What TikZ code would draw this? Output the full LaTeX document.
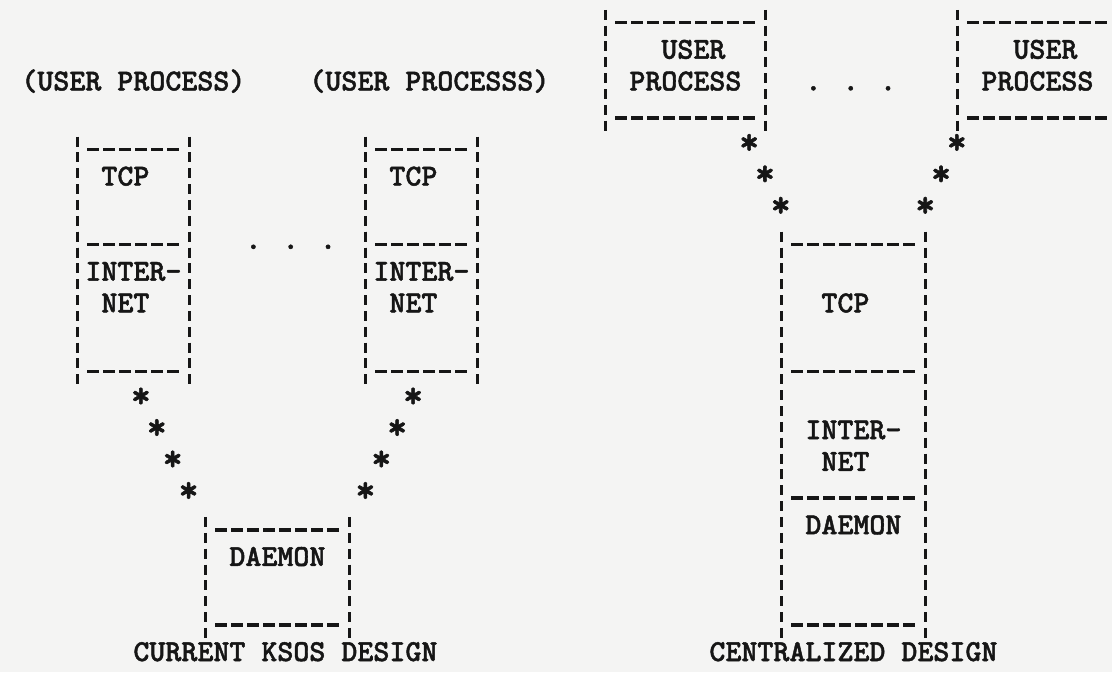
\documentclass[tikz,border=0pt]{standalone}
\usepackage{fontspec}
\newfontfamily\typefont{lmmonolt10-bold.otf}[FakeBold=1.5]
\usepackage{tikz}
\usetikzlibrary{decorations.markings}
\definecolor{paper}{RGB}{244,244,243}
\definecolor{ink}{RGB}{22,22,22}
\tikzset{%
  bar/.style = {ink, line width=1.5pt, dash pattern=on 5pt off 2.925pt,
        dash phase=6.4625pt},
  rule/.style = {ink, line width=1.8pt, dash pattern=on 6pt off 2pt},
  lyr/.style = {rectangle, inner sep=0pt},
  t/.style = {inner sep=0pt, anchor=mid west, text=ink,
        font=\typefont\fontsize{15.24pt}{15.85pt}\selectfont},
  ast/.style = {inner sep=0pt, anchor=mid, text=ink,
        font=\typefont\fontsize{19pt}{19pt}\selectfont},
  starline/.style = {draw=none, postaction=decorate,
        decoration={markings, mark=between positions #1 and 0.99 step #1
        with {\node[ast] {*};}}}
}
% one layer of a stack: name, left col, right col, top row, bottom row
\newcommand{\stacklayer}[5]{%
  \node[lyr, minimum width={(#3-#2)*8pt}, minimum height={(#5-#4)*15.85pt}]
     (#1) at ({(#2+#3)/2},{(#4+#5)/2}) {};
  \draw[bar] (#2,#4-.5) -- (#2,#5+.5);
  \draw[bar] (#3,#4-.5) -- (#3,#5+.5);
  \draw[rule] (#2+.625,#4) -- (#3-.625,#4);
  \draw[rule] (#2+.625,#5) -- (#3-.625,#5);
}

\begin{document}
\begin{tikzpicture}[x=8pt, y=-15.85pt]
   \fill[paper] (-1.8125,-0.716) rectangle (67.6875,20.483);
   \useasboundingbox (-1.8125,-0.716) rectangle (67.6875,20.483);

   % current design
   \node[t] (up1) at (-.5,2) {(USER PROCESS)};
   \node[t] (up2) at (17.5,2) {(USER PROCESSS)};

   \stacklayer{tcp1}{3}{10}{4}{7}
   \stacklayer{int1}{3}{10}{7}{11}
   \stacklayer{tcp2}{21}{28}{4}{7}
   \stacklayer{int2}{21}{28}{7}{11}
   \stacklayer{dmn1}{11}{20}{16}{19}

   \node[t] (tcp1-l) at (4.5,5) {TCP};
   \node[t, align=left] (int1-l) at (3.5,9) {INTER-\\~NET};
   \node[t] (tcp2-l) at (22.5,5) {TCP};
   \node[t, align=left] (int2-l) at (21.5,9) {INTER-\\~NET};
   \node[t] (dmn1-l) at (12.5,17) {DAEMON};
   \node[t] (dots1) at (13.5,7) {. . .};
   \node[t] (cap1) at (6.5,20) {CURRENT KSOS DESIGN};

   \draw[starline=0.2] ([xshift=-4pt]int1.south) -- (dmn1.north west);
   \draw[starline=0.2] ([xshift=4pt]int2.south) -- (dmn1.north east);

   % centralized design
   \stacklayer{usr1}{36}{46}{0}{3}
   \stacklayer{usr2}{58}{68}{0}{3}
   \stacklayer{tcp3}{47}{56}{7}{11}
   \stacklayer{int3}{47}{56}{11}{15}
   \stacklayer{dmn3}{47}{56}{15}{19}

   \node[t, align=left] (usr1-l) at (37.5,2) {~~USER\\PROCESS};
   \node[t, align=left] (usr2-l) at (59.5,2) {~~USER\\PROCESS};
   \node[t] (dots2) at (48.5,2) {. . .};
   \node[t] (tcp3-l) at (49.5,9) {TCP};
   \node[t, align=left] (int3-l) at (48.5,14) {INTER-\\~NET};
   \node[t] (dmn3-l) at (48.5,16) {DAEMON};
   \node[t] (cap2) at (42.5,20) {CENTRALIZED DESIGN};

   \draw[starline=0.25] ([xshift=-16pt]usr1.south east) -- ([xshift=8pt]tcp3.north west);
   \draw[starline=0.25] ([xshift=8pt]usr2.south west) -- ([xshift=-8pt]tcp3.north east);
\end{tikzpicture}
\end{document}
